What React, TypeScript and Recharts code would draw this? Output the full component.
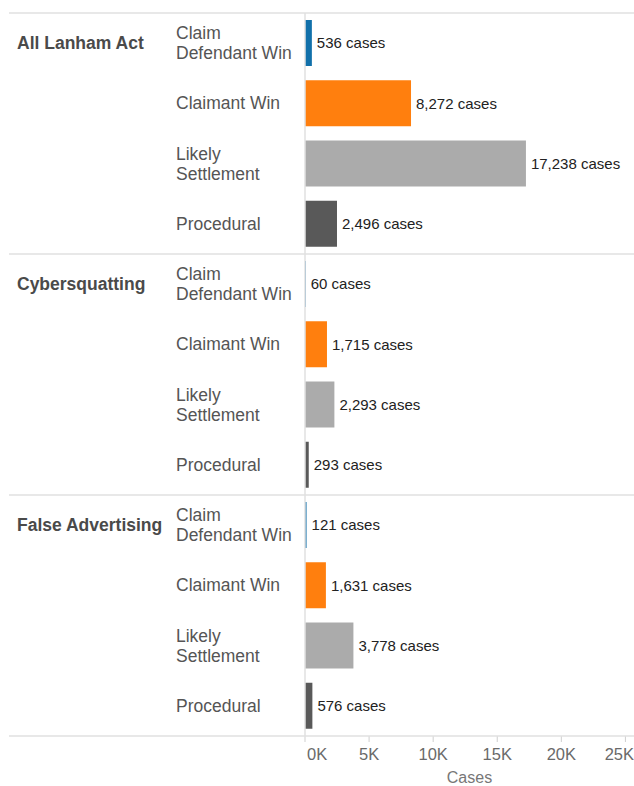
import { Bar, BarChart, Cell, LabelList, XAxis, YAxis } from 'recharts';

const groups = ['All Lanham Act', 'Cybersquatting', 'False Advertising'];
const outcomes = ['Claim Defendant Win', 'Claimant Win', 'Likely Settlement', 'Procedural'];
const outcomeLines = [['Claim', 'Defendant Win'], ['Claimant Win'], ['Likely', 'Settlement'], ['Procedural']];
const lanhamCases = [536, 8272, 17238, 2496];
const cyberCases = [60, 1715, 2293, 293];
const falseAdCases = [121, 1631, 3778, 576];
const xTicks = [0, 5000, 10000, 15000, 20000, 25000];
const xTickLabels = ['0K', '5K', '10K', '15K', '20K', '25K'];

const COLORS = ['#1170aa', '#ff7f0e', '#ababab', '#595959'];
const FONT = '"Liberation Sans", Arial, Helvetica, sans-serif';

const W = 634;
const H = 786;
const TOP = 13;
const LEFT = 305;
const X_AXIS_H = 50;
const ROWS = groups.length * outcomes.length;
const BAND = (H - TOP - X_AXIS_H) / ROWS;
const GRID = '#e0e0e0';

const groupValues = [lanhamCases, cyberCases, falseAdCases];
const rows = groups.flatMap((g, gi) =>
  outcomes.map((o, oi) => ({ id: `${g}|${o}`, group: g, outcome: oi, cases: groupValues[gi][oi] }))
);

function CategoryTick(props: any) {
  const { y, index } = props;
  const row = rows[index];
  if (!row) return null;
  const lines = outcomeLines[row.outcome];
  const first = row.outcome === 0;
  return (
    <g>
      {first && <line x1={9} x2={W} y1={y - BAND / 2} y2={y - BAND / 2} stroke={GRID} strokeWidth={1.5} />}
      {index === ROWS - 1 && (
        <line x1={9} x2={W} y1={y + BAND / 2} y2={y + BAND / 2} stroke={GRID} strokeWidth={1.5} />
      )}
      {first && (
        <text x={17} y={y + 6} fontSize={17.5} fontWeight="bold" fill="#4a4a4a" fontFamily={FONT}>
          {row.group}
        </text>
      )}
      {lines.map((l, i) => (
        <text
          key={i}
          x={176}
          y={y + 6 + (i - (lines.length - 1) / 2) * 20}
          fontSize={17.5}
          fill="#555"
          fontFamily={FONT}
        >
          {l}
        </text>
      ))}
    </g>
  );
}

function CasesTick(props: any) {
  const { x, y, index } = props;
  const anchor = index === 0 ? 'start' : index === xTicks.length - 1 ? 'end' : 'middle';
  const tx = index === 0 ? x + 2 : index === xTicks.length - 1 ? W : x;
  return (
    <text x={tx} y={y + 16} textAnchor={anchor} fontSize={16.5} fill="#6a6a6a" fontFamily={FONT}>
      {xTickLabels[index]}
    </text>
  );
}

export default function App() {
  return (
    <div style={{ position: 'absolute', left: 0, top: 0, background: '#fff' }}>
      <BarChart
        width={W}
        height={H}
        data={rows}
        layout="vertical"
        margin={{ top: TOP, right: 0, bottom: 0, left: 0 }}
        barSize={46}
      >
        <XAxis
          type="number"
          domain={[0, 25670]}
          ticks={xTicks}
          interval={0}
          height={X_AXIS_H}
          axisLine={false}
          tickLine={{ stroke: '#cfcfcf' }}
          tickSize={6}
          tickMargin={2}
          tick={(p: any) => <CasesTick {...p} />}
          label={{ value: 'Cases', position: 'insideBottom', offset: 3, fontSize: 16, fill: '#777', fontFamily: FONT }}
        />
        <YAxis
          type="category"
          dataKey="id"
          width={LEFT}
          interval={0}
          axisLine={{ stroke: GRID, strokeWidth: 1.5 }}
          tickLine={false}
          tick={(p: any) => <CategoryTick {...p} />}
        />
        <Bar dataKey="cases" isAnimationActive={false}>
          {rows.map((r) => (
            <Cell key={r.id} fill={COLORS[r.outcome]} />
          ))}
          <LabelList
            dataKey="cases"
            position="right"
            offset={5}
            fontSize={15}
            fill="#222"
            fontFamily={FONT}
            formatter={(v: any) => `${Number(v).toLocaleString('en-US')} cases`}
          />
        </Bar>
      </BarChart>
    </div>
  );
}
